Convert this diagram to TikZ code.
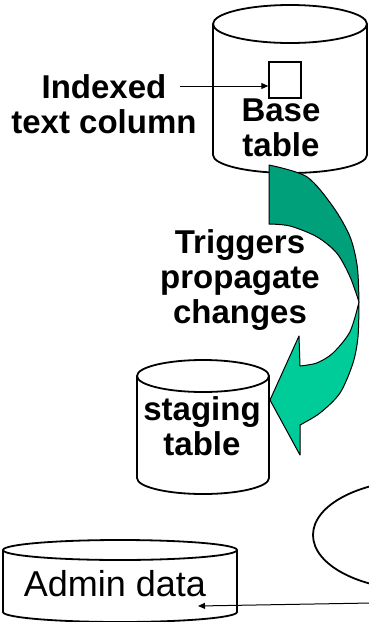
\documentclass[tikz,border=0pt]{standalone}
\usepackage{fontspec}
\setmainfont{Liberation Sans}
\usetikzlibrary{arrows.meta,shapes.geometric}
\definecolor{gdark}{RGB}{0,160,122}
\definecolor{glight}{RGB}{0,204,153}
\begin{document}
\begin{tikzpicture}[x=1pt,y=-1pt,
  lbl/.style={font=\fontsize{33}{35}\selectfont\bfseries, align=center, inner sep=0pt, anchor=base},
  cylline/.style={line width=1.8pt, fill=white},
  thinarrow/.style={-{Triangle[length=7pt,width=6pt]}, line width=1pt},
  greenpart/.style={draw=black, line width=1pt, line join=round}
]
\useasboundingbox (0,0) rectangle (369,622);
\clip (0,0) rectangle (369,622);

% Base table cylinder
\draw[cylline] (213,24) -- (213,155) arc[start angle=180,end angle=0,x radius=77,y radius=18] -- (367,24);
\draw[cylline] (290,24) ellipse[x radius=77, y radius=19];
\node[lbl] (base) at (281,156) {Base\\table};
\node[draw, line width=1.5pt, minimum width=32pt, minimum height=36pt, inner sep=0pt] (col) at (285,80) {};

% Indexed text column label
\node[lbl] (idx) at (104,133) {Indexed\\text column};
\coordinate (idxarr) at (180,86);
\draw[thinarrow] (idxarr) -- (col.west |- idxarr);

% Staging table cylinder
\draw[cylline] (137,376) -- (137,478) arc[start angle=180,end angle=0,x radius=66,y radius=16] -- (269,376);
\draw[cylline] (203,376) ellipse[x radius=66, y radius=16];
\node[lbl] (stg) at (202,455) {staging\\table};

% Admin data cylinder
\draw[cylline] (3,550) -- (3,612) arc[start angle=180,end angle=0,x radius=117,y radius=10] -- (237,550);
\draw[cylline] (120,550) ellipse[x radius=117, y radius=10];
\node[font=\fontsize{36}{40}\selectfont, inner sep=0pt, anchor=base] (adm) at (115,596) {Admin data};

% Ellipse at right edge
\node[draw, ellipse, line width=1.8pt, minimum width=214pt, minimum height=110pt, inner sep=0pt] (proc) at (420,535) {};

% Arrow to admin data
\coordinate (src) at (372,603);
\coordinate (admtip) at (198,606);
\draw[thinarrow] (src) -- (admtip);

% Curved green arrow
\filldraw[greenpart, fill=gdark] plot[smooth] coordinates {(269,165) (306.7,176.7) (333,206.7) (350,236.7) (357.3,266.7) (359,302)}
  -- plot[smooth] coordinates {(359,302) (350,276.7) (336.7,253) (316.7,236.7) (290,226) (269,224)} -- cycle;
\filldraw[greenpart, fill=glight] plot[smooth] coordinates {(359,302) (358,336.7) (353,363) (340,393) (320,413) (300,425)}
  -- (300,455) -- (270,400) -- (299,336) -- (300,366)
  -- plot[smooth] coordinates {(300,366) (316.7,363) (333,353) (350,331.7) (359,302)} -- cycle;

\node[lbl] (trig) at (240,323) {Triggers\\propagate\\changes};
\end{tikzpicture}
\end{document}
